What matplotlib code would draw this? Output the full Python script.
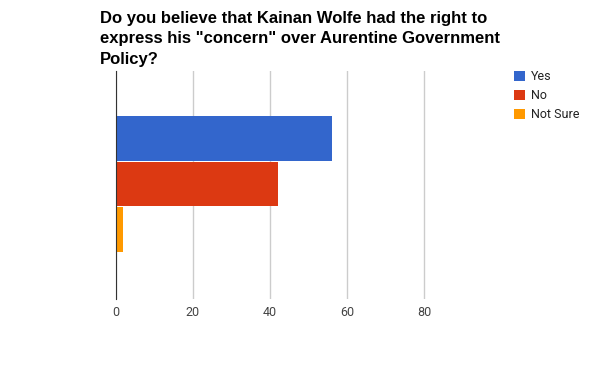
import matplotlib.pyplot as plt
import numpy as np

series = ["Yes", "No", "Not Sure"]
values = [56, 42, 2]
colors = ["#3366cc", "#dc3912", "#ff9900"]
xticks = [0, 20, 40, 60, 80]
title = 'Do you believe that Kainan Wolfe had the right to\nexpress his "concern" over Aurentine Government\nPolicy?'


def main():
    fig = plt.figure(figsize=(6, 3.71), dpi=100)
    ax = fig.add_axes([0.1925, 0.193, 0.6435, 0.6156])

    bar_h = 0.2
    offsets = (np.arange(len(series)) - 1) * bar_h
    handles = []
    for off, v, c, name in zip(offsets, values, colors, series):
        h = ax.barh(-off + 0.005, v, height=bar_h - 0.005, color=c, label=name, zorder=2)
        handles.append(h)

    ax.set_xlim(0, 100)
    ax.set_ylim(-0.5, 0.5)
    ax.set_xticks(xticks)
    ax.set_yticks([])
    ax.grid(axis="x", color="#cccccc", linewidth=1, zorder=0)
    for s in ["top", "right", "bottom"]:
        ax.spines[s].set_visible(False)
    ax.spines["left"].set_color("#333333")
    ax.spines["left"].set_zorder(3)
    ax.tick_params(axis="x", length=0, pad=5, labelsize=9, labelcolor="#444444")
    for lbl in ax.get_xticklabels():
        lbl.set_family("Roboto")

    fig.text(100 / 600, 1 - 11 / 371, title, ha="left", va="top",
             fontsize=12, fontweight="bold", family="Liberation Sans",
             color="#000000", linespacing=1.45)

    fig.legend(handles=handles, labels=series, loc="upper left",
               bbox_to_anchor=(514 / 600, 1 - 70 / 371), frameon=False,
               handlelength=0.9, handleheight=0.9, handletextpad=0.45,
               labelspacing=0.5, borderaxespad=0, borderpad=0,
               prop={"family": "Roboto", "size": 9}, labelcolor="#222222")

    fig.savefig("out.png", dpi=100)


if __name__ == "__main__":
    main()
